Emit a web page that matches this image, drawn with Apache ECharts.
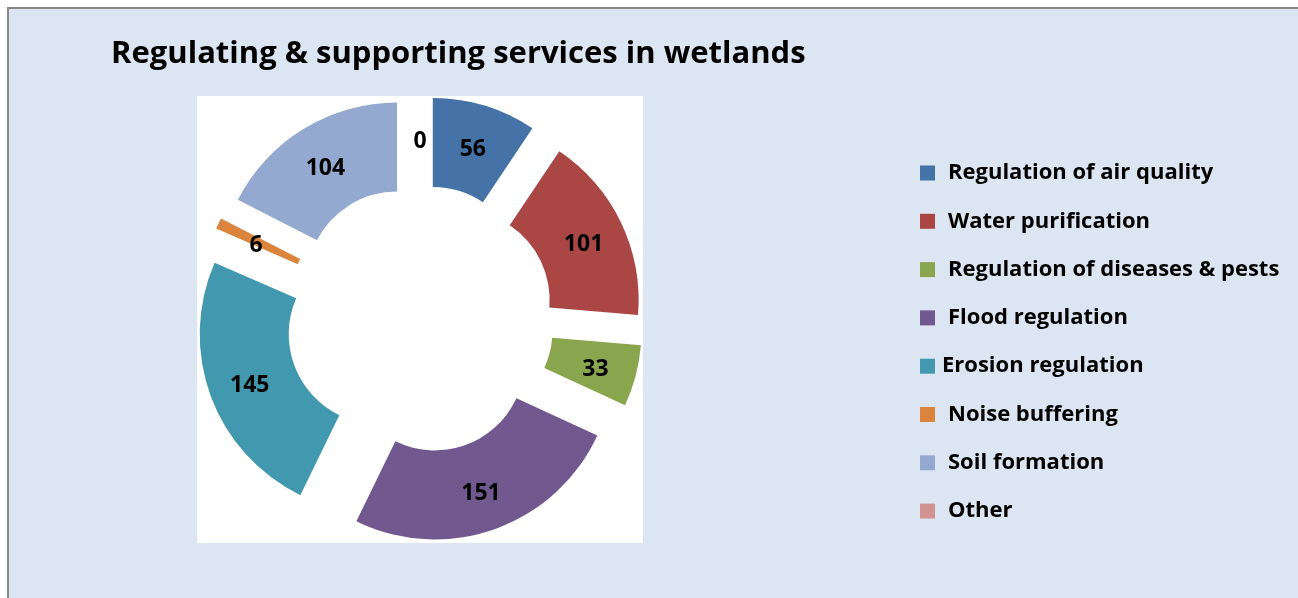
<!DOCTYPE html>
<html>
<head>
<meta charset="utf-8">
<script src="https://cdn.jsdelivr.net/npm/echarts@6/dist/echarts.min.js"></script>
<style>
html,body{margin:0;padding:0;background:#fff;}
#chart{width:1298px;height:598px;}
</style>
</head>
<body>
<div id="chart"></div>
<script>
const titleText = 'Regulating & supporting services in wetlands';
const categories = ['Regulation of air quality','Water purification','Regulation of diseases & pests','Flood regulation','Erosion regulation','Noise buffering','Soil formation','Other'];
const values = [56, 101, 33, 151, 145, 6, 104, 0];
const colors = ['#4572A7','#AA4643','#89A54E','#71588F','#4198AF','#DB843D','#93A9CF','#D19392'];

const FONT = 'Open Sans';
const chart = echarts.init(document.getElementById('chart'), null, {renderer:'canvas'});
chart.setOption({
  animation: false,
  backgroundColor: '#ffffff',
  title: {
    text: titleText,
    left: 111,
    top: 39,
    padding: 0,
    textStyle: {fontFamily: FONT, fontWeight: 'bold', fontSize: 31, color: '#000'}
  },
  graphic: [
    {type:'rect', z: -10, shape:{x:8, y:8, width:1310, height:610}, style:{fill:'#dce6f2', stroke:'#8a8a8a', lineWidth:2}},
    {type:'rect', z: -9, shape:{x:197, y:96, width:446, height:447}, style:{fill:'#ffffff'}}
  ],
  legend: {
    orient: 'vertical',
    left: 920,
    top: 162,
    padding: 0,
    itemWidth: 15,
    itemHeight: 15,
    itemGap: 26.3,
    icon: 'rect',
    selectedMode: false,
    data: categories.map((c) => ({name: c, textStyle: {padding: c === 'Erosion regulation' ? [0,0,0,2] : [0,0,0,8]}})),
    textStyle: {fontFamily: FONT, fontWeight: 'bold', fontSize: 22, lineHeight: 20, color: '#000'}
  },
  series: [{
    type: 'pie',
    center: [420, 319],
    radius: [90, 179],
    startAngle: 90,
    clockwise: true,
    selectedMode: 'multiple',
    selectedOffset: 44,
    avoidLabelOverlap: false,
    minShowLabelAngle: 0,
    label: {
      show: true, position: 'inside', formatter: '{v|{c}}', color: '#000',
      rich: {v: {fontFamily: FONT, fontWeight: 'bold', fontSize: 23, color: '#000', padding: [8, 0, 0, 0]}}
    },
    labelLine: {show: false},
    itemStyle: {borderWidth: 0},
    emphasis: {disabled: true},
    data: categories.map((c, i) => ({name: c, value: values[i], selected: true, itemStyle: {color: colors[i]}}))
  }]
});
</script>
</body>
</html>
